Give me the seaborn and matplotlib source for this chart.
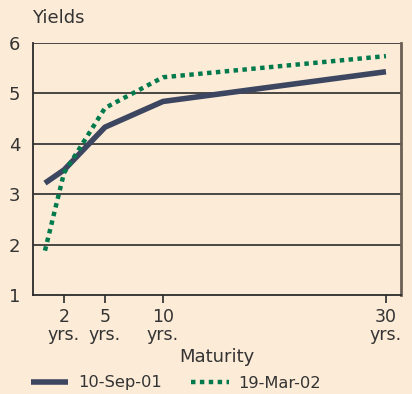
import numpy as np
import pandas as pd
import matplotlib
matplotlib.use("Agg")
import matplotlib.pyplot as plt
import seaborn as sns
from matplotlib.lines import Line2D

# ---- data ----
maturity = [0.25, 2, 5, 10, 30]
yields_sep01 = [3.22, 3.48, 4.33, 4.84, 5.43]
yields_mar02 = [1.88, 3.42, 4.71, 5.32, 5.74]
series_labels = ["10-Sep-01", "19-Mar-02"]
xtick_values = [2, 5, 10, 30]
xtick_labels = ["2\nyrs.", "5\nyrs.", "10\nyrs.", "30\nyrs."]
ytick_values = [1, 2, 3, 4, 5, 6]

df = pd.DataFrame({
    "Maturity": maturity * 2,
    "Yield": yields_sep01 + yields_mar02,
    "Date": [series_labels[0]] * len(maturity) + [series_labels[1]] * len(maturity),
})

BG = "#FCEBD7"
TXT = "#333333"
sns.set_theme(style="white")
plt.rcParams["font.family"] = ["DejaVu Sans"]
plt.rcParams["text.color"] = TXT
plt.rcParams["axes.labelcolor"] = TXT
plt.rcParams["xtick.color"] = TXT
plt.rcParams["ytick.color"] = TXT

fig = plt.figure(figsize=(4.12, 3.94), dpi=100, facecolor=BG)
ax = fig.add_axes([33/412, 1-295/394, (401-33)/412, (295-43)/394])
ax.set_facecolor(BG)

# Non-uniform maturity axis as in the original chart
mk = [-2, 0.25, 2, 5, 10, 30, 40]
pk = [20.5, 45, 64, 105, 163, 386, 497.5]
fwd = lambda x: np.interp(x, mk, pk)
inv = lambda p: np.interp(p, pk, mk)
ax.set_xscale("function", functions=(fwd, inv))

for y in [2, 3, 4, 5, 6]:
    ax.axhline(y, color="#2b2b2b", lw=1.2, zorder=1)

palette = {series_labels[0]: "#3D4660", series_labels[1]: "#007A4D"}
dashes = {series_labels[0]: "", series_labels[1]: (1, 1)}
sns.lineplot(data=df, x="Maturity", y="Yield", hue="Date", style="Date",
             palette=palette, dashes=dashes, ax=ax, legend=False, zorder=3)
lines = ax.get_lines()[-2:]
lines[0].set_linewidth(4.0)
lines[0].set_solid_capstyle("butt")
lines[1].set_linewidth(3.2)
lines[1].set_dash_capstyle("butt")

ax.set_xlim(-0.85, 31.35)
ax.set_ylim(1, 6)
ax.set_yticks(ytick_values)
ax.set_yticklabels([str(v) for v in ytick_values])
ax.set_xticks(xtick_values)
ax.set_xticklabels(xtick_labels, linespacing=1.0)
ax.tick_params(axis="y", length=0, pad=9, labelsize=13)
ax.tick_params(axis="x", length=6, width=1.2, color="#2b2b2b", pad=3, labelsize=12.5, direction="out", bottom=True)
ax.set_xlabel("Maturity", fontsize=13, labelpad=3)
ax.set_ylabel("")

for s in ["left", "bottom"]:
    ax.spines[s].set_color("#2b2b2b")
    ax.spines[s].set_linewidth(1.3)
ax.spines["right"].set_color("#6b5f55")
ax.spines["right"].set_linewidth(2)
ax.spines["top"].set_visible(False)

fig.text(32/412, 1-18/394, "Yields", fontsize=13, va="center", ha="left", color=TXT)

h1 = Line2D([], [], color=palette[series_labels[0]], lw=4.0, solid_capstyle="butt")
h2 = Line2D([], [], color=palette[series_labels[1]], lw=3.2, linestyle=(0, (1, 1)), dash_capstyle="butt")
fig.legend([h1, h2], series_labels, loc="center", bbox_to_anchor=(176/412, 11/394),
           ncol=2, frameon=False, fontsize=11.7, handlelength=2.3, columnspacing=1.8,
           handletextpad=0.6, borderpad=0, borderaxespad=0)

fig.savefig("out.png", dpi=100, facecolor=BG)
